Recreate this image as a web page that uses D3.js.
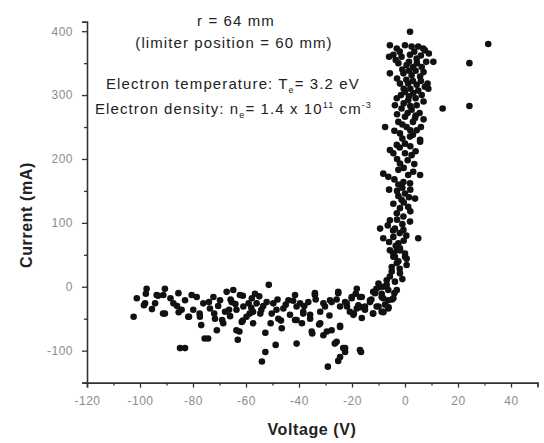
<!DOCTYPE html>
<html><head><meta charset="utf-8">
<script src="https://cdn.jsdelivr.net/npm/d3@7"></script>
<style>
body{margin:0;background:#fff;}
svg{display:block;font-family:"Liberation Sans",Arial,sans-serif;}
</style></head><body>
<svg id="chart" width="544" height="443"></svg>
<script>
// ---- data (Voltage V, Current mA) ----
const xTicks = [-120,-100,-80,-60,-40,-20,0,20,40];
const xMinor = [-110,-90,-70,-50,-30,-10,10,30,50];
const yTicks = [-100,0,100,200,300,400];
const yMinor = [-150,-50,50,150,250,350];

const flatRegion = [
[-102.4,-47],[-101.2,-18],[-98.5,-29],[-98.1,-26],[-97.5,-3],[-97.8,-11],[-94.3,-26],[-93.7,-13],[-93.2,-14],[-91.2,-13],
[-90.6,-3],[-91.3,-42],[-90.6,-42],[-87.4,-26],[-85.5,-10],[-85.4,-40],[-84.3,-36],[-83,-21],[-81.8,-47],[-81.5,-47],
[-80.5,-13],[-84.9,-96],[-83,-96],[-77.5,-42],[-76.9,-60],[-75.6,-81],[-74.3,-81],[-71,-68],[-69,-52],[-66.4,-36],
[-65.8,-20],[-63.1,-83],[-62.5,-70],[-61.2,-53],[-61.2,-14],[-58.6,-42],[-56.6,-11],[-54.6,-42],[-52.7,-72],[-51.4,3],
[-50.7,-57],[-48.1,-20],[-46.8,-53],[-42.2,-22],[-33.7,-20],[-25.8,-20],[-18.6,-11],[-12.7,-20],[-10.8,-3],[-8.8,-11],
[-4.9,-20],[-21.9,-31],[-19.3,-42],[-16.6,-32],[-12.1,-42],[-8.2,-40],[-6.2,-32],
[-78.6,-16],[-76.1,-26],[-79.9,-36],[-77.4,-47],[-72.3,-16],[-69.8,-21],[-73.6,-34],[-67.3,-8],[-64.8,-5],[-62.3,-13],
[-65.4,-24],[-67.9,-39],[-63.6,-36],[-61,-31],[-59.8,-47],[-61.6,-55],[-57.8,-18],[-56,-26],[-57.3,-39],[-54.2,-36],
[-52.2,-24],[-49.7,-26],[-50.3,-42],[-47.8,-50],[-45.9,-34],[-44,-21],[-43.4,-44],[-40.9,-31],[-41.5,-52],[-63.6,-68],
[-68.6,-57],[-71.7,-50],[-46.5,-65],[-57.3,-57],[-88.5,-18],[-95.5,-35],[-86,-30],[-74,-24],[-70.5,-30],[-59,-26],
[-55,-15],[-53.5,-30],[-48.5,-36],[-45,-28],[-38,-30],[-36.5,-24],[-72,-42],[-66,-46],[-64,-27],[-58,-33]
];
const lowScatter = [
[-29.1,-125],[-25.2,-116],[-24.5,-110],[-22.6,-96],[-17,-99],[-16.6,-102],[-22.6,-102],[-26.5,-89],[-40.9,-89],[-48.8,-91],
[-52.7,-102],[-54,-117],[-35.2,-70],[-29.5,-70],[-30.8,-76],[-27.7,-68],[-24.5,-63],[-32,-57],[-40.9,-52],[-38.4,-39],
[-35.8,-44],[-38.9,-57],[-35,-73],[-32.4,-59],[-28.5,-45],[-24.5,-61],[-23.3,-96],[-25.8,-86]
];
const kneeRegion = [
[-4.4,52],[-1.9,60],[0,47],[-3.1,37],[0.6,34],[-5,24],[-1.9,21],[-6.9,10],[-3.8,8],[-9.4,0],
[-6.3,-5],[-3.1,-5],[-11.3,-10],[-8.2,-18],[-4.4,-18],[-13.2,-24],[-10,-31],[-6.3,-34],[-15.1,-36],[-12,-42],
[-8.8,-39],[-17.6,-29],[-19.5,-44],[-17,-16],[-20.1,-18],[-22,-26],[-25.2,-10],[-27.7,-24],[-24.5,-31],[-30.2,-31],
[-32,-39],[-35.8,-50],[-34,-13],[-38.4,-42],[-5.7,16],[-5,31],[-4.4,47],[-3.1,57],[-6.9,3],[-8.2,0],
[-10,5],[-12,-8],[-13.2,-21],[-10.7,-31],[-8.2,-39],[-6.3,-21],[-8.8,-16],[-15.1,-31],[-18.2,-34],[-20.8,-39],
[-16.3,-16],[-18.2,-3],[-20.1,-16],[-22.6,-24],[-25.2,-8],[-28.3,-21],[-30.8,-26],[-34,-10],[-41.5,-13],[-39.6,-26],
[-16.3,-49],[-2,28],[-1,12],[-4,-10],[-7.5,-28],[-2.5,40]
];
const riseRegion = [
[-4.4,209],[0,209],[2.5,206],[-1.9,193],[-8.2,177],[-6.3,172],[-2.5,183],[1.2,175],[3.1,180],[5.7,175],
[-0.6,164],[1.9,162],[0,146],[3.8,138],[-1.3,136],[-4.4,130],[-1.9,123],[1.2,125],[-3.1,115],[-0.6,110],
[-5.7,104],[1.9,102],[-9.4,91],[-3.8,91],[-0.6,89],[-8.2,76],[-4.4,78],[5,76],[-2.5,68],[-5.7,57],
[-1.9,57],[0,52],[-3.8,47],[0.6,44],
[-5.7,214],[5.7,227],[-2,218],[2,220],[4,212],[-3,200],[1,198],[3.5,192],[-0.5,186],[-4,168],
[-1,155],[2,152],[-3,150],[-2.5,142],[1.5,140],[-0.5,132],[-3,105],[-1,98],[-6.5,96],[-2,84],
[0.5,80],[-6,70],[-3.5,64],[-0.5,72],[-4.5,88],[2,118],[-2.5,160],[-6,152]
];
const topRegion = [
[-5.7,378],[-3.1,373],[0,378],[2.5,376],[5,376],[7.5,370],[6.9,373],[-4.4,363],[-1.3,360],[1.9,363],
[4.4,357],[-2.5,350],[0.6,347],[3.1,344],[6.3,344],[-5.7,334],[-0.6,334],[2.5,331],[5.7,329],[-1.9,318],
[1.2,318],[4.4,316],[7.5,313],[0,305],[3.1,303],[6.3,300],[-3.1,295],[1.2,292],[4.4,284],[-3.8,284],
[-1.3,279],[2.5,277],[0,266],[3.8,264],[-2.5,258],[-7.5,250],[0.6,250],[4.4,245],[-1.9,240],[1.9,235],
[5.7,230],[0,224],[-3.1,222],
[-2,368],[3.5,368],[6,362],[-3.5,355],[1.5,352],[4.5,350],[8,352],[-1,340],[1.5,338],[4,338],
[7,336],[-3,326],[0.5,324],[3,322],[6,322],[-0.5,310],[2,310],[5,307],[8.5,318],[-1.5,300],
[1.5,298],[4,295],[7,290],[-0.5,287],[2,283],[5.5,272],[-3,270],[1,272],[3,258],[-1,254],
[2,245],[6,250],[-4,244],[3,238],[-1,232],[7,262],[4,268],[9,365],[-6,360]
];
const outliers = [
[31.4,380],[10.7,352],[24.3,350],[14.2,279],[24.3,283],[8.8,310],[1.9,399]
];

const allPoints = [].concat(flatRegion, lowScatter, kneeRegion, riseRegion, topRegion, outliers);

// ---- drawing ----
const svg = d3.select("#chart");
const x = d3.scaleLinear().domain([-120,50]).range([87,537.5]);
const y = d3.scaleLinear().domain([-150,415]).range([382.6,21.6]);

const fmt = d => String(d);
const axisCol = "#333";
const labCol = "#8c8c8c";

// x axis
const gx = svg.append("g").attr("transform",`translate(0,${y(-150)})`);
gx.call(d3.axisBottom(x).tickValues(xTicks).tickSize(5).tickPadding(9).tickFormat(fmt));
const gxm = svg.append("g").attr("transform",`translate(0,${y(-150)})`);
gxm.call(d3.axisBottom(x).tickValues(xMinor).tickSize(3).tickFormat(""));
gxm.select(".domain").remove();

// y axis
const gy = svg.append("g").attr("transform",`translate(${x(-120)},0)`);
gy.call(d3.axisLeft(y).tickValues(yTicks).tickSize(5).tickPadding(9).tickFormat(fmt));
const gym = svg.append("g").attr("transform",`translate(${x(-120)},0)`);
gym.call(d3.axisLeft(y).tickValues(yMinor).tickSize(3).tickFormat(""));
gym.select(".domain").remove();

svg.selectAll(".domain").attr("stroke",axisCol).attr("stroke-width",1.6);
svg.selectAll(".tick line").attr("stroke",axisCol).attr("stroke-width",1.3);
svg.selectAll(".tick text").attr("fill",labCol).attr("font-size",12)
   .attr("letter-spacing",0.5)
   .attr("font-family","'Liberation Sans',Arial,sans-serif");

// points
svg.append("g").selectAll("circle").data(allPoints).join("circle")
  .attr("cx",d=>x(d[0])).attr("cy",d=>y(d[1])).attr("r",3.3).attr("fill","#111");

// axis titles
svg.append("text").attr("x",312).attr("y",435).attr("text-anchor","middle")
  .attr("font-size",16).attr("font-weight","bold").attr("letter-spacing",0.6)
  .attr("fill","#222").text("Voltage (V)");
svg.append("text").attr("transform","translate(32,215) rotate(-90)").attr("text-anchor","middle")
  .attr("font-size",16).attr("font-weight","bold").attr("letter-spacing",0.6)
  .attr("fill","#222").text("Current (mA)");

// annotations
const ann = svg.append("g").attr("fill","#222").attr("font-size",15).attr("letter-spacing",1.1);
ann.append("text").attr("x",236).attr("y",26).attr("text-anchor","middle").text("r = 64 mm");
ann.append("text").attr("x",234).attr("y",48).attr("text-anchor","middle").text("(limiter position = 60 mm)");
const t1 = ann.append("text").attr("x",106).attr("y",89);
t1.append("tspan").text("Electron temperature: T");
t1.append("tspan").attr("font-size",9).attr("dy",4).text("e");
t1.append("tspan").attr("dy",-4).text("= 3.2 eV");
const t2 = ann.append("text").attr("x",95).attr("y",114);
t2.append("tspan").text("Electron density: n");
t2.append("tspan").attr("font-size",9).attr("dy",4).text("e");
t2.append("tspan").attr("dy",-4).text("= 1.4 x 10");
t2.append("tspan").attr("font-size",9).attr("dy",-6).text("11");
t2.append("tspan").attr("dy",6).text(" cm");
t2.append("tspan").attr("font-size",9).attr("dy",-6).text("-3");
</script>
</body></html>
